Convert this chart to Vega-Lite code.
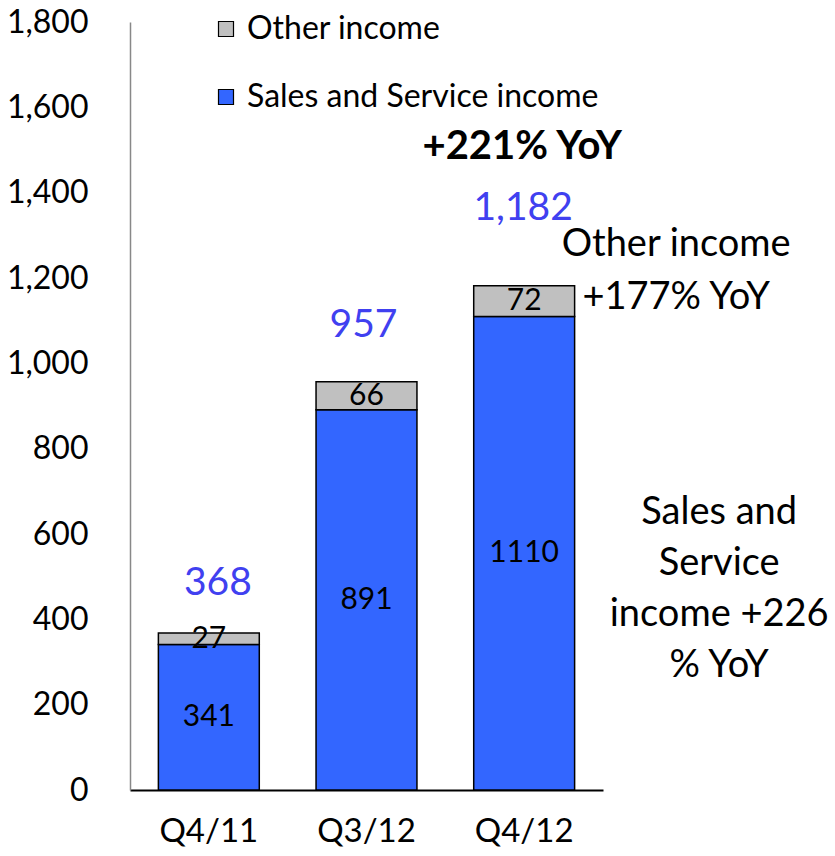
{
  "$schema": "https://vega.github.io/schema/vega-lite/v6.json",
  "autosize": {"type": "none"},
  "padding": {"left": 130, "top": 22, "right": 232, "bottom": 66},
  "width": 473,
  "height": 768,
  "background": "white",
  "config": {
    "font": "Lato",
    "view": {"stroke": null}
  },
  "data": {
    "values": [
      {"quarter": "Q4/11", "series": "Sales and Service income", "value": 341},
      {"quarter": "Q4/11", "series": "Other income", "value": 27},
      {"quarter": "Q3/12", "series": "Sales and Service income", "value": 891},
      {"quarter": "Q3/12", "series": "Other income", "value": 66},
      {"quarter": "Q4/12", "series": "Sales and Service income", "value": 1110},
      {"quarter": "Q4/12", "series": "Other income", "value": 72}
    ]
  },
  "encoding": {
    "x": {
      "field": "quarter", "type": "nominal",
      "sort": ["Q4/11", "Q3/12", "Q4/12"],
      "scale": {"paddingInner": 0.36, "paddingOuter": 0.18},
      "axis": {
        "title": null, "labelAngle": 0, "labelFontSize": 33, "labelColor": "black",
        "labelPadding": 25, "ticks": false, "domainColor": "black", "domainWidth": 2
      }
    }
  },
  "layer": [
    {
      "mark": {"type": "bar", "stroke": "black", "strokeWidth": 1.5},
      "encoding": {
        "y": {
          "field": "value", "type": "quantitative", "stack": "zero",
          "scale": {"domain": [0, 1800], "nice": false},
          "axis": {
            "title": null, "values": [0, 200, 400, 600, 800, 1000, 1200, 1400, 1600, 1800],
            "format": ",d", "labelFontSize": 32, "labelColor": "black", "labelPadding": 42,
            "ticks": false, "grid": false, "domainColor": "#888888", "domainWidth": 1.5
          }
        },
        "color": {
          "field": "series", "type": "nominal",
          "scale": {"domain": ["Other income", "Sales and Service income"], "range": ["#C0C0C0", "#3366FF"]},
          "legend": {
            "title": null, "orient": "none", "legendX": 80, "legendY": -9,
            "direction": "vertical", "padding": 0, "symbolType": "square", "symbolSize": 225,
            "symbolStrokeColor": "black", "symbolStrokeWidth": 1.2, "labelFontSize": 32,
            "labelColor": "black", "labelOffset": 5, "rowPadding": 36, "labelLimit": 500
          }
        },
        "order": {"field": "series", "sort": "descending"}
      }
    },
    {
      "mark": {"type": "text", "fontSize": 30, "color": "black", "baseline": "middle"},
      "encoding": {
        "y": {"field": "value", "type": "quantitative", "stack": "zero", "bandPosition": 0.5},
        "detail": {"field": "series"},
        "order": {"field": "series", "sort": "descending"},
        "text": {"field": "value", "type": "quantitative"}
      }
    },
    {
      "data": {"values": [{"label": "368"}]},
      "mark": {"type": "text", "fontSize": 39, "color": "#4040F0", "baseline": "middle", "dx": 9},
      "encoding": {"x": {"datum": "Q4/11"}, "y": {"datum": 485}, "text": {"field": "label"}}
    },
    {
      "data": {"values": [{"label": "957"}]},
      "mark": {"type": "text", "fontSize": 39, "color": "#4040F0", "baseline": "middle", "dx": -3},
      "encoding": {"x": {"datum": "Q3/12"}, "y": {"datum": 1090}, "text": {"field": "label"}}
    },
    {
      "data": {"values": [{"label": "1,182"}]},
      "mark": {"type": "text", "fontSize": 39, "color": "#4040F0", "baseline": "middle", "dx": -1},
      "encoding": {"x": {"datum": "Q4/12"}, "y": {"datum": 1364}, "text": {"field": "label"}}
    },
    {
      "data": {"values": [{"label": "+221% YoY"}]},
      "mark": {"type": "text", "fontSize": 40, "fontWeight": "bold", "color": "black", "baseline": "middle", "dx": -2},
      "encoding": {"x": {"datum": "Q4/12"}, "y": {"datum": 1507}, "text": {"field": "label"}}
    },
    {
      "data": {"values": [{"label": "Other income"}]},
      "mark": {"type": "text", "fontSize": 38, "color": "black", "baseline": "middle", "dx": 152},
      "encoding": {"x": {"datum": "Q4/12"}, "y": {"datum": 1277}, "text": {"field": "label"}}
    },
    {
      "data": {"values": [{"label": "+177% YoY"}]},
      "mark": {"type": "text", "fontSize": 38, "color": "black", "baseline": "middle", "dx": 152},
      "encoding": {"x": {"datum": "Q4/12"}, "y": {"datum": 1153}, "text": {"field": "label"}}
    },
    {
      "data": {"values": [{}]},
      "mark": {"type": "text", "fontSize": 38, "color": "black", "baseline": "middle", "dx": 195, "lineHeight": 51},
      "encoding": {"x": {"datum": "Q4/12"}, "y": {"datum": 650}, "text": {"value": ["Sales and", "Service", "income +226", "% YoY"]}}
    }
  ]
}
